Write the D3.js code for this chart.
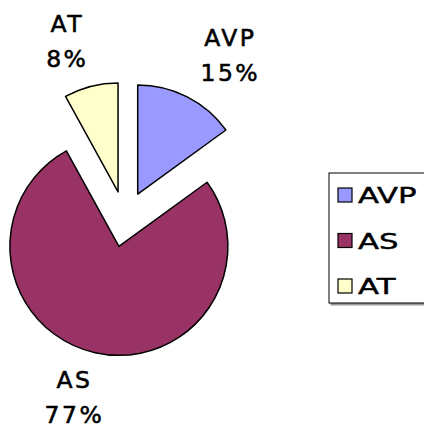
<!DOCTYPE html>
<html>
<head>
<meta charset="utf-8">
<script src="https://cdn.jsdelivr.net/npm/d3@7"></script>
<style>
  body { margin: 0; background: #fff; }
  text { font-family: "DejaVu Sans", Verdana, sans-serif; fill: #000; stroke: #000; stroke-width: 0.55px; }
</style>
</head>
<body>
<div class="chart"></div>
<script>
// data
let categories = ['AVP', 'AS', 'AT'];
let values = [15, 77, 8];
let colors = ['#9999ff', '#993366', '#ffffcc'];

let width = 424, height = 430;
let cx = 125, cy = 219, radius = 109, explode = 28;

let svg = d3.select('.chart')
  .append('svg')
    .attr('width', width)
    .attr('height', height);

let color = d3.scaleOrdinal().domain(categories).range(colors);

let pie = d3.pie()
  .sort(null)
  .value(d => d.value);

let data = categories.map((c, i) => ({ name: c, value: values[i] }));
let arcs = pie(data);
let total = d3.sum(values);

let arc = d3.arc().innerRadius(0).outerRadius(radius);

let g = svg.append('g')
  .attr('transform', `translate(${cx}, ${cy})`);

function midDir(a) {
  let mid = (a.startAngle + a.endAngle) / 2;
  return [Math.sin(mid), -Math.cos(mid)];
}

g.selectAll('path.slice')
  .data(arcs)
  .enter()
  .append('path')
    .attr('class', 'slice')
    .attr('transform', d => {
      let [sx, sy] = midDir(d);
      return `translate(${sx * explode}, ${sy * explode})`;
    })
    .attr('d', arc)
    .style('fill', d => color(d.data.name))
    .style('stroke', '#000')
    .style('stroke-width', 1.5)
    .style('stroke-linejoin', 'round');

// data labels, centred on an ellipse around the pie
let labelRx = 232, labelRy = 183;
let lineGap = 35;

arcs.forEach(d => {
  let t = g.append('text')
    .style('font-size', '23.5px')
    .style('letter-spacing', '2.5px');
  t.append('tspan').attr('x', 0).attr('y', 0).text(d.data.name);
  t.append('tspan').attr('x', 0).attr('y', lineGap)
    .text(Math.round(d.data.value / total * 100) + '%');
  // centre each line on its own
  t.selectAll('tspan').each(function() {
    let w = this.getComputedTextLength();
    d3.select(this).attr('x', -w / 2 + 1.25);
  });

  let box = t.node().getBBox();
  let [sx, sy] = midDir(d);
  let bx = sx * labelRx - (box.x + box.width / 2);
  let by = sy * labelRy - (box.y + box.height / 2);
  t.attr('transform', `translate(${bx}, ${by})`);
});

// legend
let legend = svg.append('g')
  .attr('transform', 'translate(329, 173)');

legend.append('rect')
  .attr('x', 1.5)
  .attr('y', 1.5)
  .attr('width', 110)
  .attr('height', 131)
  .style('fill', '#999');

legend.append('rect')
  .attr('width', 110)
  .attr('height', 130)
  .style('fill', '#fff')
  .style('stroke', '#000')
  .style('stroke-width', 1);

let rowY = d3.scalePoint()
  .domain(categories)
  .range([15, 106]);

let item = legend.selectAll('g.item')
  .data(categories)
  .enter()
  .append('g')
    .attr('class', 'item')
    .attr('transform', d => `translate(9, ${rowY(d)})`);

item.append('rect')
  .attr('width', 14)
  .attr('height', 14)
  .style('fill', d => color(d))
  .style('stroke', '#000')
  .style('stroke-width', 1.2);

item.append('text')
  .attr('transform', 'translate(20, 15) scale(1.5, 1)')
  .style('font-size', '20.5px')
  .style('stroke-width', '0.4px')
  .text(d => d);
</script>
</body>
</html>
